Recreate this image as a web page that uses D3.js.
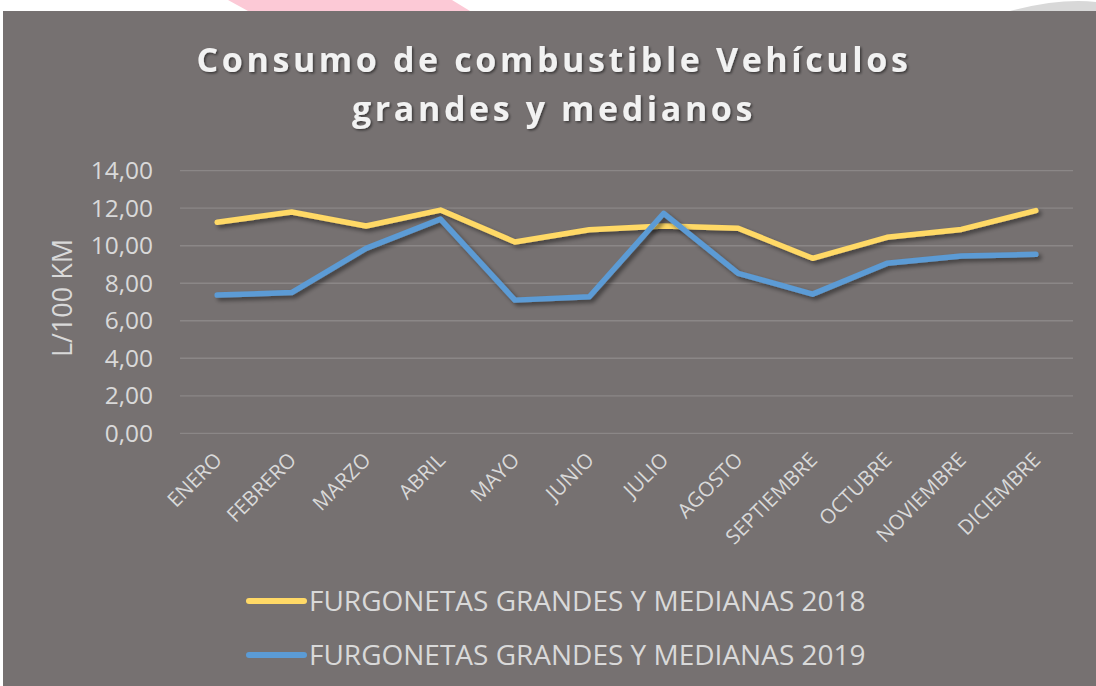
<html>
<head>
<meta charset="utf-8">
<script src="https://d3js.org/d3.v7.min.js"></script>
<style>
  body { margin: 0; background: #ffffff; }
  text { font-family: "Open Sans", sans-serif; }
</style>
</head>
<body>
<svg width="1096" height="686"></svg>
<script>
// data
const meses = ['ENERO','FEBRERO','MARZO','ABRIL','MAYO','JUNIO','JULIO','AGOSTO','SEPTIEMBRE','OCTUBRE','NOVIEMBRE','DICIEMBRE'];
const consumo2018 = [11.25, 11.80, 11.05, 11.90, 10.20, 10.85, 11.05, 10.93, 9.33, 10.45, 10.87, 11.87];
const consumo2019 = [7.37, 7.50, 9.86, 11.42, 7.10, 7.28, 11.73, 8.53, 7.42, 9.06, 9.45, 9.54];
const yTicks = [0, 2, 4, 6, 8, 10, 12, 14];
const series = [
  {name: 'FURGONETAS GRANDES Y MEDIANAS 2018', values: consumo2018, color: '#FFD966'},
  {name: 'FURGONETAS GRANDES Y MEDIANAS 2019', values: consumo2019, color: '#5B9BD5'}
];

const svg = d3.select('svg');

// slide background bits above the chart panel
svg.append('path')
  .attr('d', 'M228,0 L452,0 L470,11 L248,11 Z')
  .attr('fill', '#fcc9d6');
svg.append('path')
  .attr('d', 'M1010,11 Q1060,-2 1096,2 L1096,11 Z')
  .attr('fill', '#d8d8d8');

// chart panel
svg.append('rect')
  .attr('x', 3).attr('y', 11)
  .attr('width', 1093).attr('height', 675)
  .attr('fill', '#767171');

const defs = svg.append('defs');
defs.append('filter').attr('id', 'sombra')
  .attr('x', '-10%').attr('y', '-10%').attr('width', '120%').attr('height', '130%')
  .append('feDropShadow')
  .attr('dx', 3).attr('dy', 3).attr('stdDeviation', 2)
  .attr('flood-color', '#000').attr('flood-opacity', 0.45);
defs.append('filter').attr('id', 'sombraTexto')
  .append('feDropShadow')
  .attr('dx', 1.5).attr('dy', 1.5).attr('stdDeviation', 1.2)
  .attr('flood-color', '#000').attr('flood-opacity', 0.5);

// title
const title = svg.append('text')
  .attr('text-anchor', 'middle')
  .attr('fill', '#F2F2F2')
  .attr('font-size', 34)
  .attr('font-weight', 'bold')
  .attr('letter-spacing', 3.6)
  .attr('filter', 'url(#sombraTexto)');
title.append('tspan').attr('x', 554).attr('y', 72).text('Consumo de combustible Vehículos');
title.append('tspan').attr('x', 554).attr('y', 121).text('grandes y medianos');

// scales
const plotLeft = 180, plotRight = 1073, plotTop = 170.7, plotBottom = 433.3;
const x = d3.scaleBand().domain(meses).range([plotLeft, plotRight]);
const y = d3.scaleLinear().domain([0, 14]).range([plotBottom, plotTop]);

// gridlines
svg.append('g')
  .selectAll('line')
  .data(yTicks)
  .join('line')
    .attr('x1', plotLeft).attr('x2', plotRight)
    .attr('y1', d => y(d)).attr('y2', d => y(d))
    .attr('stroke', '#8b8787').attr('stroke-width', 1.3);

// y axis labels
const yAxis = svg.append('g')
  .attr('transform', 'translate(' + 161 + ',0)')
  .call(d3.axisLeft(y).tickValues(yTicks).tickSize(0).tickPadding(8)
    .tickFormat(d => d3.format('.2f')(d).replace('.', ',')));
yAxis.select('.domain').remove();
yAxis.selectAll('text')
  .attr('fill', '#D9D9D9')
  .attr('font-size', 24.5)
  .attr('font-family', '"Open Sans", sans-serif');

// y axis title
svg.append('text')
  .attr('transform', 'translate(72,298) rotate(-90)')
  .attr('text-anchor', 'middle')
  .attr('fill', '#D9D9D9')
  .attr('font-size', 27)
  .text('L/100 KM');

// x axis labels
const xAxis = svg.append('g')
  .attr('transform', 'translate(0,' + plotBottom + ')')
  .call(d3.axisBottom(x).tickSize(0).tickPadding(0));
xAxis.select('.domain').remove();
xAxis.selectAll('text')
  .attr('fill', '#D9D9D9')
  .attr('font-size', 20.5)
  .attr('font-family', '"Open Sans", sans-serif')
  .attr('text-anchor', 'end')
  .attr('dy', 0)
  .attr('transform', 'translate(6,28) rotate(-45)');

// lines
const line = d3.line()
  .x((d, i) => x(meses[i]) + x.bandwidth() / 2)
  .y(d => y(d));

svg.append('g')
  .selectAll('path')
  .data(series)
  .join('path')
    .attr('d', d => line(d.values))
    .attr('fill', 'none')
    .attr('stroke', d => d.color)
    .attr('stroke-width', 5.5)
    .attr('stroke-linecap', 'round')
    .attr('stroke-linejoin', 'round')
    .attr('filter', 'url(#sombra)');

// legend
const legend = svg.append('g')
  .selectAll('g')
  .data(series)
  .join('g')
    .attr('transform', (d, i) => 'translate(249,' + (601 + i * 54) + ')');
legend.append('line')
  .attr('x1', 0).attr('x2', 55)
  .attr('stroke', d => d.color)
  .attr('stroke-width', 6)
  .attr('stroke-linecap', 'round');
legend.append('text')
  .attr('x', 60)
  .attr('dy', '0.35em')
  .attr('fill', '#D9D9D9')
  .attr('font-size', 28)
  .text(d => d.name);
</script>
</body>
</html>
